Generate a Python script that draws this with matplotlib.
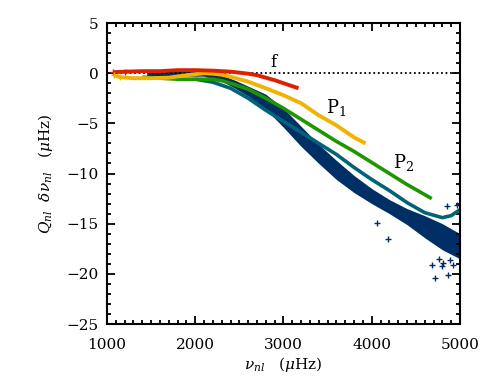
import matplotlib
matplotlib.use("Agg")
import matplotlib.pyplot as plt
from matplotlib.ticker import MultipleLocator

plt.rcParams["font.family"] = ["DejaVu Serif"]
plt.rcParams["mathtext.fontset"] = "dejavuserif"

# f mode (red)
f_x = [1070, 1200, 1400, 1600, 1800, 2000, 2200, 2400, 2500, 2600, 2700, 2800, 2900, 3000, 3100, 3170]
f_y = [0.1, 0.15, 0.2, 0.2, 0.3, 0.3, 0.25, 0.15, 0.05, -0.05, -0.2, -0.45, -0.7, -1.0, -1.3, -1.5]

# p1 (yellow)
p1_x = [1080, 1150, 1300, 1500, 1700, 1900, 2000, 2100, 2200, 2300, 2400, 2600, 2800, 3000, 3200, 3400, 3600, 3800, 3930]
p1_y = [-0.2, -0.4, -0.5, -0.5, -0.45, -0.2, -0.1, 0.0, -0.05, -0.15, -0.35, -0.85, -1.5, -2.2, -3.0, -4.2, -5.2, -6.4, -7.0]

# p2 (green)
p2_x = [1400, 1600, 1800, 2000, 2200, 2300, 2400, 2600, 2800, 3000, 3200, 3400, 3600, 3800, 4000, 4200, 4400, 4600, 4680]
p2_y = [-0.4, -0.5, -0.6, -0.6, -0.6, -0.75, -1.0, -1.6, -2.5, -3.5, -4.6, -5.7, -6.8, -7.8, -8.9, -10.0, -11.1, -12.1, -12.5]

# higher orders (teal)
hi_x = [2000, 2200, 2400, 2600, 2800, 3000, 3200, 3400, 3600, 3800, 4000, 4200, 4400, 4600, 4800, 4900, 5000]
hi_y = [-0.6, -0.9, -1.5, -2.5, -3.7, -4.8, -5.9, -7.0, -8.1, -9.4, -10.6, -11.7, -12.9, -13.9, -14.4, -14.2, -13.6]

# scattered observations (dark blue band envelope)
obs_x = [1450, 1700, 1900, 2100, 2300, 2450, 2600, 2800, 3000, 3200, 3400, 3600, 3800, 4000, 4200, 4400, 4600, 4800, 5000]
obs_hi = [0.1, 0.2, 0.25, 0.25, -0.2, -0.7, -1.3, -2.1, -3.5, -5.3, -7.1, -8.7, -10.2, -11.5, -12.6, -13.5, -14.2, -15.0, -16.0]
obs_lo = [-0.3, -0.3, -0.3, -0.3, -0.8, -1.5, -2.3, -3.6, -5.4, -7.3, -9.0, -10.6, -11.9, -13.0, -14.0, -15.1, -16.4, -17.6, -18.5]

# isolated outliers
out_x = [4056, 4187, 4849, 4969, 4686, 4716, 4867, 4792, 4766, 4917, 4887, 4810]
out_y = [-14.9, -16.5, -13.2, -13.1, -19.1, -20.4, -20.1, -19.2, -18.5, -19.1, -18.6, -18.9]

RED = "#dc2000"
YELLOW = "#f0b400"
GREEN = "#1e9600"
TEAL = "#006478"
NAVY = "#002f66"

fig = plt.figure(figsize=(5.03, 3.88), dpi=100)
ax = fig.add_axes([0.2127, 0.1649, 0.7018, 0.7758])

ax.fill_between(obs_x, obs_lo, obs_hi, color=NAVY, linewidth=0)
ax.plot(out_x, out_y, "+", color=NAVY, markersize=4, markeredgewidth=1)
ax.plot(hi_x, hi_y, color=TEAL, linewidth=2.6, solid_capstyle="butt")
ax.plot(p2_x, p2_y, color=GREEN, linewidth=2.6, solid_capstyle="butt")
ax.plot(p1_x, p1_y, color=YELLOW, linewidth=2.8, solid_capstyle="butt")
ax.plot(f_x, f_y, color=RED, linewidth=2.8, solid_capstyle="butt")
ax.plot(f_x[:2], f_y[:2], "+", color=RED, markersize=4, markeredgewidth=1)
ax.plot(p1_x[:2], p1_y[:2], "+", color=YELLOW, markersize=4, markeredgewidth=1)

ax.axhline(0, color="black", linestyle=(0, (1, 1.5)), linewidth=1.3, zorder=1)

ax.text(2881, 1.1, "f", fontsize=12, ha="center", va="center")
ax.text(3595, -3.4, r"$\mathrm{P}_1$", fontsize=13, ha="center", va="center")
ax.text(4356, -8.9, r"$\mathrm{P}_2$", fontsize=13, ha="center", va="center")

ax.set_xlim(1000, 5000)
ax.set_ylim(-25, 5)
ax.xaxis.set_major_locator(MultipleLocator(1000))
ax.xaxis.set_minor_locator(MultipleLocator(100))
ax.yaxis.set_major_locator(MultipleLocator(5))
ax.yaxis.set_minor_locator(MultipleLocator(1))
ax.tick_params(which="both", direction="in", top=True, right=True, width=1.3)
ax.tick_params(which="major", length=6)
ax.tick_params(which="minor", length=3)
ax.tick_params(axis="x", labelsize=11, pad=10)
ax.tick_params(axis="y", labelsize=11, pad=6)
for s in ax.spines.values():
    s.set_linewidth(1.5)

ax.set_xlabel(r"$\nu_{nl}\quad(\mu\mathrm{Hz})$", fontsize=11, labelpad=2)
ax.set_ylabel(r"$Q_{nl}\ \ \delta\nu_{nl}\quad(\mu\mathrm{Hz})$", fontsize=11, labelpad=8)

fig.savefig("out.png", dpi=100)
